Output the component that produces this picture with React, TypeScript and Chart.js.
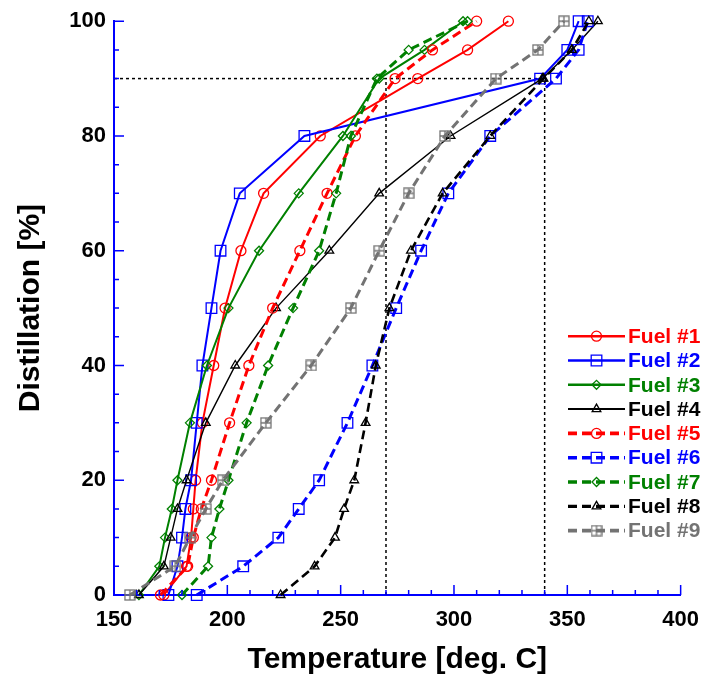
import React, { useEffect, useRef } from 'react';
import { Chart, registerables } from 'chart.js';
import { drawPoint } from 'chart.js/helpers';

Chart.register(...registerables);

// Distillation levels [%]
const distillation = [0, 5, 10, 15, 20, 30, 40, 50, 60, 70, 80, 90, 95, 100];

// Temperatures [deg. C] for each fuel at the distillation levels above
const fuel1 = [172, 182, 184, 185, 186, 189, 194, 199, 206, 216, 241, 284, 306, 324];
const fuel2 = [174, 178, 180, 181.5, 184, 186.5, 189, 193, 197, 205.5, 234, 338, 350, 355];
const fuel3 = [161, 170, 172.5, 175.5, 178, 183.5, 191, 200.5, 214, 231.5, 251, 267, 287, 304];
const fuel4 = [161, 172, 175, 178, 182, 190.5, 203.5, 221.5, 245, 267, 298.5, 339, 352, 363.5];
const fuel5 = [170.5, 182.5, 185, 188.5, 193, 201, 209.5, 220, 232, 244, 256.5, 274, 290.5, 310];
const fuel6 = [186.5, 207, 222.5, 231.5, 240.5, 253, 264, 274.5, 285.5, 297.5, 316, 345, 355, 359];
const fuel7 = [180, 191.5, 193, 196.5, 200.5, 208.5, 218, 229, 240.5, 248, 254.5, 266, 280, 306];
const fuel8 = [223.5, 238.5, 247.5, 251.5, 256, 261, 265.5, 271.5, 281, 295, 316, 339.5, 352, 359.5];
const fuel9 = [157, 177, 183.5, 190.5, 198, 217, 237, 254.5, 267, 280, 296, 318.5, 337, 348.5];

const fuelLabels = ['Fuel #1', 'Fuel #2', 'Fuel #3', 'Fuel #4', 'Fuel #5', 'Fuel #6', 'Fuel #7', 'Fuel #8', 'Fuel #9'];

// Reference (dotted) lines
const ref90X = [150, 340];
const ref90Y = [90, 90];
const ref270X = [270, 270];
const ref270Y = [0, 90];
const ref340X = [340, 340];
const ref340Y = [0, 90];

// Axis ticks
const xMin = 150, xMax = 400, xStep = 50, xMinorStep = 10;
const yMin = 0, yMax = 100, yStep = 20, yMinorStep = 5;

const FONT = "'Liberation Sans', Arial, Helvetica, sans-serif";
const RED = '#ff0000';
const BLUE = '#0000ff';
const GREEN = '#008000';
const BLACK = '#000000';
const GRAY = '#737373';
const AXIS = '#0000ff';

function gridSquare(color: string): HTMLCanvasElement {
  const c = document.createElement('canvas');
  c.width = 12; c.height = 12;
  const g = c.getContext('2d')!;
  g.strokeStyle = color;
  g.lineWidth = 1.3;
  g.strokeRect(1, 1, 10, 10);
  g.beginPath();
  g.moveTo(6, 1); g.lineTo(6, 11);
  g.moveTo(1, 6); g.lineTo(11, 6);
  g.stroke();
  return c;
}

const toPts = (xs: number[], ys: number[]) => xs.map((x, i) => ({ x, y: ys[i] }));

const axisTicksPlugin = {
  id: 'axisTicks',
  afterDraw(chart: any) {
    const { ctx, chartArea, scales } = chart;
    const xs = scales.x, ys = scales.y;
    ctx.save();
    ctx.strokeStyle = AXIS;
    ctx.lineWidth = 1.5;
    ctx.beginPath();
    for (let v = xMin; v <= xMax; v += xMinorStep) {
      const px = xs.getPixelForValue(v);
      const len = v % xStep === 0 ? 10 : 5;
      ctx.moveTo(px, chartArea.bottom);
      ctx.lineTo(px, chartArea.bottom - len);
    }
    for (let v = yMin; v <= yMax; v += yMinorStep) {
      const py = ys.getPixelForValue(v);
      const len = v % yStep === 0 ? 10 : 5;
      ctx.moveTo(chartArea.left, py);
      ctx.lineTo(chartArea.left + len, py);
    }
    ctx.stroke();
    ctx.restore();
  },
};

const legendPlugin = {
  id: 'fuelLegend',
  afterDraw(chart: any) {
    const { ctx, chartArea } = chart;
    const x0 = chartArea.left + 454;
    const x1 = x0 + 57;
    const tx = x1 + 3;
    const yTop = chartArea.top + 315;
    const step = 24.3;
    chart.data.datasets.forEach((ds: any, i: number) => {
      if (!ds.isFuel) return;
      const y = yTop + i * step;
      ctx.save();
      ctx.strokeStyle = ds.borderColor;
      ctx.lineWidth = ds.borderWidth + 0.6;
      ctx.setLineDash(ds.borderDash || []);
      ctx.beginPath();
      ctx.moveTo(x0, y);
      ctx.lineTo(x1, y);
      ctx.stroke();
      ctx.setLineDash([]);
      ctx.lineWidth = ds.pointBorderWidth;
      ctx.fillStyle = 'rgba(0,0,0,0)';
      drawPoint(ctx, { pointStyle: ds.pointStyle, radius: ds.pointRadius, borderWidth: ds.pointBorderWidth, rotation: 0 } as any, (x0 + x1) / 2, y);
      ctx.fillStyle = ds.borderColor;
      ctx.font = `bold 21px ${FONT}`;
      ctx.textBaseline = 'middle';
      ctx.textAlign = 'left';
      ctx.fillText(ds.label, tx, y + 1);
      ctx.restore();
    });
  },
};

export default function App() {
  const ref = useRef<HTMLCanvasElement | null>(null);

  useEffect(() => {
    document.body.style.margin = '0';
    const canvas = ref.current;
    if (!canvas) return;
    const grayMarker = gridSquare(GRAY);

    const fuels = [fuel1, fuel2, fuel3, fuel4, fuel5, fuel6, fuel7, fuel8, fuel9];
    const colors = [RED, BLUE, GREEN, BLACK, RED, BLUE, GREEN, BLACK, GRAY];
    const widths = [2, 2, 2, 1.4, 3, 3, 3, 2.6, 3];
    const dashed = [false, false, false, false, true, true, true, true, true];
    const markers: any[] = ['circle', 'rect', 'rectRot', 'triangle', 'circle', 'rect', 'rectRot', 'triangle', grayMarker];
    const radii = [5, 7.5, 4.5, 5, 5, 7.5, 4.5, 5, 6];

    const fuelSets = fuels.map((f, i) => ({
      label: fuelLabels[i],
      isFuel: true,
      data: toPts(f, distillation),
      borderColor: colors[i],
      backgroundColor: 'rgba(0,0,0,0)',
      pointBackgroundColor: 'rgba(0,0,0,0)',
      pointBorderColor: colors[i],
      borderWidth: widths[i],
      borderDash: dashed[i] ? [9, 5] : [],
      pointStyle: markers[i],
      pointRadius: radii[i],
      pointBorderWidth: 1.3,
      tension: 0,
      clip: false as any,
      order: 9 - i,
    }));

    const refStyle = {
      borderColor: BLACK,
      borderWidth: 1.5,
      borderDash: [3, 3],
      pointRadius: 0,
      tension: 0,
      isFuel: false,
      fill: false,
      order: 20,
    };

    const chart = new Chart(canvas, {
      type: 'line',
      data: {
        datasets: [
          ...fuelSets,
          { label: 'ref90', data: toPts(ref90X, ref90Y), ...refStyle },
          { label: 'ref270', data: toPts(ref270X, ref270Y), ...refStyle },
          { label: 'ref340', data: toPts(ref340X, ref340Y), ...refStyle },
        ] as any,
      },
      options: {
        animation: false,
        responsive: false,
        devicePixelRatio: 1,
        layout: { padding: { left: 0, right: 26, top: 20, bottom: 0 } },
        plugins: {
          legend: { display: false },
          tooltip: { enabled: false },
        },
        scales: {
          x: {
            type: 'linear',
            min: xMin,
            max: xMax,
            grid: { display: false, drawTicks: false },
            border: { display: true, color: AXIS, width: 2 },
            ticks: {
              stepSize: xStep,
              padding: 12,
              color: '#000',
              font: { family: FONT, size: 22, weight: 'bold' },
              maxRotation: 0,
            },
            title: {
              display: true,
              text: 'Temperature [deg. C]',
              color: '#000',
              font: { family: FONT, size: 30, weight: 'bold' },
              padding: { top: 0, bottom: 4 },
            },
            afterFit: (s: any) => { s.height = 87; },
          },
          y: {
            type: 'linear',
            min: yMin,
            max: yMax,
            grid: { display: false, drawTicks: false },
            border: { display: true, color: AXIS, width: 2 },
            ticks: {
              stepSize: yStep,
              padding: 8,
              color: '#000',
              font: { family: FONT, size: 22, weight: 'bold' },
            },
            title: {
              display: true,
              text: 'Distillation [%]',
              color: '#000',
              font: { family: FONT, size: 30, weight: 'bold' },
              padding: { top: 13, bottom: 0 },
            },
            afterFit: (s: any) => { s.width = 114; },
          },
        },
      } as any,
      plugins: [axisTicksPlugin, legendPlugin],
    });

    return () => chart.destroy();
  }, []);

  return (
    <div style={{ width: 711, height: 682 }}>
      <canvas ref={ref} width={711} height={682} style={{ display: 'block' }} />
    </div>
  );
}
